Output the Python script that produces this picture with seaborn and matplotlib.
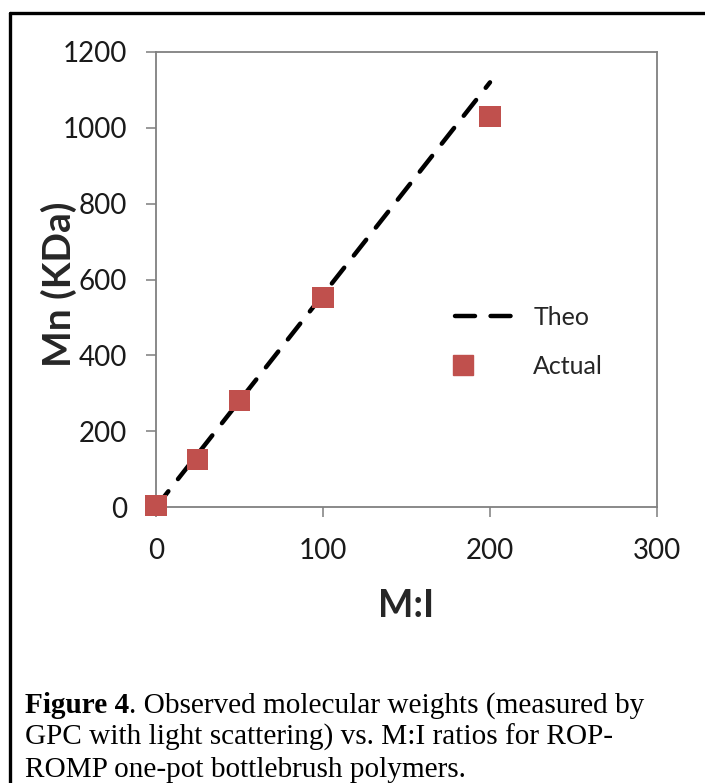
import matplotlib
matplotlib.use("Agg")
import matplotlib.pyplot as plt
from matplotlib.lines import Line2D
from matplotlib.legend_handler import HandlerLine2D
import seaborn as sns
import pandas as pd

# ─── Data ─────────────────────────────────────────────────────────────────────
theo_mi = [0, 25, 50, 100, 200]
theo_mn = [0, 140, 280, 560, 1120]
actual_mi = [0, 25, 50, 100, 200]
actual_mn = [5, 125, 280, 553, 1030]
x_ticks = [0, 100, 200, 300]
y_ticks = [0, 200, 400, 600, 800, 1000, 1200]
caption_bold = "Figure 4"
caption_rest = [
    ". Observed molecular weights (measured by",
    "GPC with light scattering) vs. M:I ratios for ROP-",
    "ROMP one-pot bottlebrush polymers.",
]

theo = pd.DataFrame({"mi": theo_mi, "mn": theo_mn})
actual = pd.DataFrame({"mi": actual_mi, "mn": actual_mn})


# Excel-style legend: marker sits at the left of the handle box
class LeftMarker(HandlerLine2D):
    def create_artists(self, legend, orig_handle, xdescent, ydescent,
                       width, height, fontsize, trans):
        m = Line2D([-xdescent + 0.15 * width], [(height - ydescent) / 2])
        self.update_prop(m, orig_handle, legend)
        m.set_linestyle("none")
        m.set_transform(trans)
        return [m]


sns.set_theme(style="white")
plt.rcParams["font.family"] = ["Lato", "DejaVu Sans"]

W, H = 705, 783
fig = plt.figure(figsize=(W / 100, H / 100), dpi=100)
ax = fig.add_axes([156 / W, 1 - 507 / H, (657 - 156) / W, (507 - 52) / H])

RED = "#C0504D"
sns.lineplot(data=theo, x="mi", y="mn", ax=ax, color="black", lw=3.2,
             dashes=False, zorder=2)
line = ax.lines[-1]
line.set_dashes((4.5, 3.5))
line.set_dash_capstyle("round")
sns.scatterplot(data=actual, x="mi", y="mn", ax=ax, marker="s", s=230,
                color=RED, edgecolor="none", zorder=3, clip_on=False)

ax.set_xlim(0, 300)
ax.set_ylim(0, 1200)
ax.set_xticks(x_ticks)
ax.set_yticks(y_ticks)
ax.tick_params(axis="both", labelsize=20, colors="#888888", labelcolor="#1a1a1a",
               length=7, width=1.2, direction="out", bottom=True, left=True)
ax.tick_params(axis="y", pad=14)
ax.tick_params(axis="x", pad=15)
for s in ax.spines.values():
    s.set_color("#808080")
    s.set_linewidth(1.3)

ax.set_xlabel("M:I", fontsize=27, fontweight="bold", labelpad=18)
ax.set_ylabel("Mn (KDa)", fontsize=28, fontweight="bold")
ax.yaxis.set_label_coords(-0.157, 0.49)

theo_h = Line2D([], [], color="black", lw=3.2, dashes=(4.5, 3.5), dash_capstyle="round")
act_h = Line2D([], [], color=RED, marker="s", ms=15, ls="none")
ax.legend([theo_h, act_h], ["Theo", "Actual"], loc="center left",
          bbox_to_anchor=(432 / W, 1 - 342 / H), bbox_transform=fig.transFigure,
          frameon=False, fontsize=18, handlelength=2.3, handletextpad=0.85,
          labelspacing=1.05, handler_map={act_h: LeftMarker()})

# ─── Border and caption ──────────────────────────────────────────────────────
fig.add_artist(Line2D([10 / W, 1.0], [1 - 13 / H, 1 - 13 / H], color="black",
                      lw=2.4, transform=fig.transFigure))
fig.add_artist(Line2D([10 / W, 10 / W], [1 - 13 / H, 0.0], color="black",
                      lw=2.4, transform=fig.transFigure))

serif = ["Liberation Serif", "DejaVu Serif"]
cap_size = 21.1
t = fig.text(25 / W, 1 - 713 / H, caption_bold, fontsize=cap_size,
             fontweight="bold", family=serif, va="baseline", color="black")
ax.annotate(caption_rest[0], xy=(1, 0), xycoords=t, va="bottom", ha="left",
            fontsize=cap_size, family=serif, color="black",
            annotation_clip=False)
fig.text(25 / W, 1 - 745 / H, caption_rest[1], fontsize=cap_size,
         family=serif, va="baseline", color="black")
fig.text(25 / W, 1 - 777 / H, caption_rest[2], fontsize=cap_size,
         family=serif, va="baseline", color="black")

fig.savefig("out.png", dpi=100)
